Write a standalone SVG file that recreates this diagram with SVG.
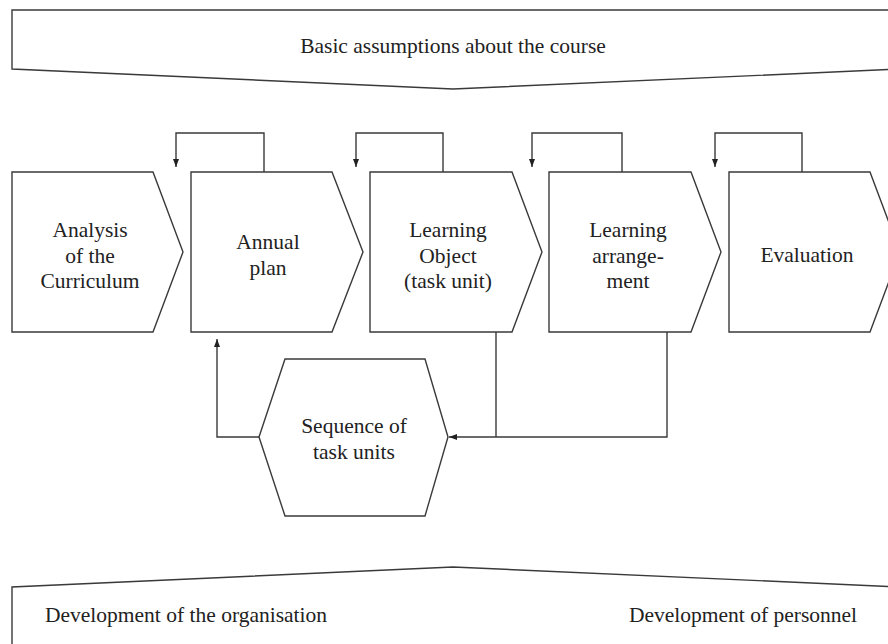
<svg xmlns="http://www.w3.org/2000/svg" width="888" height="644" viewBox="0 0 888 644">
  <style>
    .shape { fill: #ffffff; stroke: #3a3a3a; stroke-width: 1.4; stroke-linejoin: miter; }
    .conn { fill: none; stroke: #3a3a3a; stroke-width: 1.4; }
    .lbl { font-family: "Liberation Serif", "Times New Roman", serif; font-size: 21.5px; fill: #222222; text-anchor: middle; }
    .lbl-l { font-family: "Liberation Serif", "Times New Roman", serif; font-size: 21.5px; fill: #222222; }
  </style>
  <defs>
    <marker id="arrow" markerUnits="userSpaceOnUse" markerWidth="10" markerHeight="8" refX="8" refY="3" orient="auto">
      <path d="M0,0 L8,3 L0,6 z" fill="#222222"/>
    </marker>
  </defs>
  <rect width="888" height="644" fill="#ffffff"/>

  <g id="basic-assumptions">
    <polygon class="shape" points="12,10 900,10 900,69 453,89 12,69"/>
    <text class="lbl" x="453" y="53">Basic assumptions about the course</text>
  </g>

  <g id="analysis">
    <polygon class="shape" points="12,172 153,172 183,252 153,332 12,332"/>
    <text class="lbl" x="90" y="237">Analysis</text>
    <text class="lbl" x="90" y="263">of the</text>
    <text class="lbl" x="90" y="288">Curriculum</text>
  </g>

  <g id="annual-plan">
    <polygon class="shape" points="191,172 332,172 363,252 332,332 191,332"/>
    <text class="lbl" x="268" y="249">Annual</text>
    <text class="lbl" x="268" y="275">plan</text>
  </g>

  <g id="learning-object">
    <polygon class="shape" points="370,172 512,172 542,252 512,332 370,332"/>
    <text class="lbl" x="448" y="237">Learning</text>
    <text class="lbl" x="448" y="263">Object</text>
    <text class="lbl" x="448" y="288">(task unit)</text>
  </g>

  <g id="learning-arrangement">
    <polygon class="shape" points="549,172 691,172 721,252 691,332 549,332"/>
    <text class="lbl" x="628" y="237">Learning</text>
    <text class="lbl" x="628" y="263">arrange-</text>
    <text class="lbl" x="628" y="288">ment</text>
  </g>

  <g id="evaluation">
    <polygon class="shape" points="729,172 870,172 900,252 870,332 729,332"/>
    <text class="lbl" x="807" y="262">Evaluation</text>
  </g>

  <g id="sequence">
    <polygon class="shape" points="285,359 425,359 448,437 425,516 285,516 259,437"/>
    <text class="lbl" x="354" y="433">Sequence of</text>
    <text class="lbl" x="354" y="459">task units</text>
  </g>

  <g id="development">
    <polygon class="shape" points="12,650 12,587 453,567 900,587 900,650"/>
    <text class="lbl-l" x="45" y="622">Development of the organisation</text>
    <text class="lbl-l" x="629" y="622">Development of personnel</text>
  </g>

  <g id="connectors">
    <path class="conn" d="M264,172 V133 H176 V167" marker-end="url(#arrow)"/>
    <path class="conn" d="M443,172 V133 H356 V167" marker-end="url(#arrow)"/>
    <path class="conn" d="M622,172 V133 H532 V167" marker-end="url(#arrow)"/>
    <path class="conn" d="M802,172 V133 H715 V167" marker-end="url(#arrow)"/>
    <path class="conn" d="M259,437 H217 V339" marker-end="url(#arrow)"/>
    <path class="conn" d="M496,332 V437"/>
    <path class="conn" d="M667,332 V437 H449" marker-end="url(#arrow)"/>
  </g>
</svg>
